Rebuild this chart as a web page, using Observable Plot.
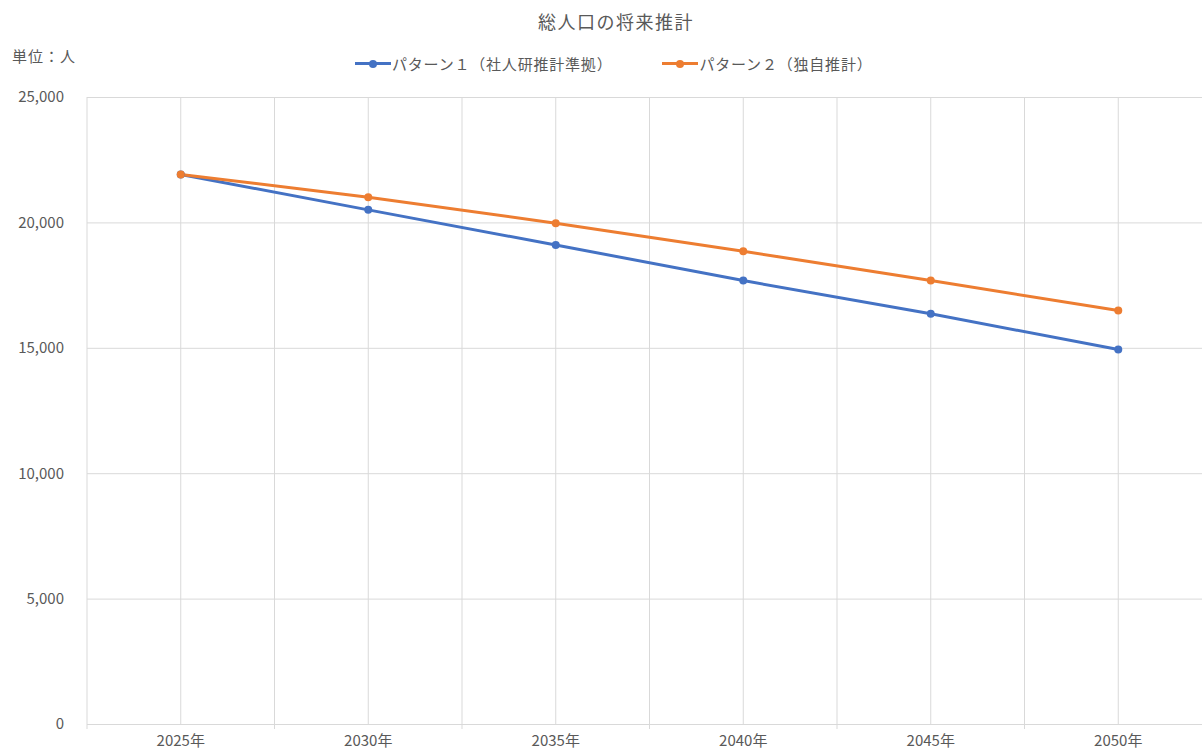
<!DOCTYPE html>
<html>
<head>
<meta charset="utf-8">
<script src="https://cdn.jsdelivr.net/npm/d3@7"></script>
<script src="https://cdn.jsdelivr.net/npm/@observablehq/plot@0.6"></script>
<style>
  html, body { margin: 0; padding: 0; background: #fff; overflow: hidden; }
  #wrap { position: relative; width: 1202px; height: 751px; font-family: "Noto Sans CJK JP", "Noto Sans", sans-serif; color: #595959; }
  #title { position: absolute; top: 8px; left: 0; width: 1232px; text-align: center; font-size: 18px; letter-spacing: 1.5px; }
  #unit { position: absolute; top: 45px; left: 12px; font-size: 15px; letter-spacing: 1px; }
  #legend { position: absolute; top: 53px; left: 355px; font-size: 15px; letter-spacing: 0.8px; display: flex; gap: 50px; }
  .li { display: flex; align-items: center; }
  .sw { position: relative; width: 36px; height: 3px; margin-right: 1px; }
  .sw i { position: absolute; left: 14px; top: -2.5px; width: 8px; height: 8px; border-radius: 50%; }
  #chart { position: absolute; top: 0; left: 0; }
</style>
</head>
<body>
<div id="wrap">
  <div id="title">総人口の将来推計</div>
  <div id="unit">単位：人</div>
  <div id="legend"></div>
  <div id="chart"></div>
</div>
<script>
const years = [2025, 2030, 2035, 2040, 2045, 2050];
const yearLabels = ["2025年", "2030年", "2035年", "2040年", "2045年", "2050年"];
const pattern1 = [21930, 20520, 19120, 17700, 16375, 14950];
const pattern2 = [21930, 21025, 19990, 18870, 17700, 16505];
const seriesNames = ["パターン１（社人研推計準拠）", "パターン２（独自推計）"];
const seriesColors = ["#4472C4", "#ED7D31"];
const yTicks = [0, 5000, 10000, 15000, 20000, 25000];
const gridX = [2022.5, 2025, 2027.5, 2030, 2032.5, 2035, 2037.5, 2040, 2042.5, 2045, 2047.5, 2050, 2052.5];
const boundaryX = [2022.5, 2027.5, 2032.5, 2037.5, 2042.5, 2047.5, 2052.5];

const data = [];
years.forEach((yr, i) => {
  data.push({year: yr, value: pattern1[i], series: seriesNames[0]});
  data.push({year: yr, value: pattern2[i], series: seriesNames[1]});
});

const leg = document.getElementById("legend");
seriesNames.forEach((n, i) => {
  const d = document.createElement("div");
  d.className = "li";
  d.innerHTML = `<span class="sw" style="background:${seriesColors[i]}"><i style="background:${seriesColors[i]}"></i></span>${n}`;
  leg.appendChild(d);
});

const fmt = d3.format(",");
const labelOf = d => yearLabels[years.indexOf(d)];

const chart = Plot.plot({
  width: 1202,
  height: 751,
  marginTop: 97,
  marginBottom: 27,
  marginLeft: 87,
  marginRight: 0,
  style: {fontFamily: '"Noto Sans CJK JP", "Noto Sans", sans-serif', fontSize: "13px", color: "#595959", overflow: "hidden"},
  x: {type: "linear", domain: [2022.5, 2052.5], range: [86.5, 1211.5], axis: null},
  y: {type: "linear", domain: [0, 25000], axis: null},
  color: {domain: seriesNames, range: seriesColors},
  marks: [
    Plot.ruleY(yTicks, {stroke: "#d9d9d9", strokeWidth: 1}),
    Plot.ruleX(gridX, {y1: 0, y2: 25000, stroke: "#d9d9d9", strokeWidth: 1}),
    Plot.ruleX(boundaryX, {y1: 0, y2: -200, stroke: "#d9d9d9", strokeWidth: 1}),
    Plot.text(yTicks, {x: 2022.5, y: d => d, text: d => fmt(d), textAnchor: "end", dx: -23, fill: "#595959", fontSize: 15}),
    Plot.text(years, {x: d => d, y: 0, text: d => labelOf(d), dy: 17, fill: "#595959", fontSize: 15}),
    Plot.line(data, {x: "year", y: "value", z: "series", stroke: "series", strokeWidth: 3}),
    Plot.dot(data, {x: "year", y: "value", fill: "series", r: 4, stroke: "none"})
  ]
});
document.getElementById("chart").appendChild(chart);
</script>
</body>
</html>
